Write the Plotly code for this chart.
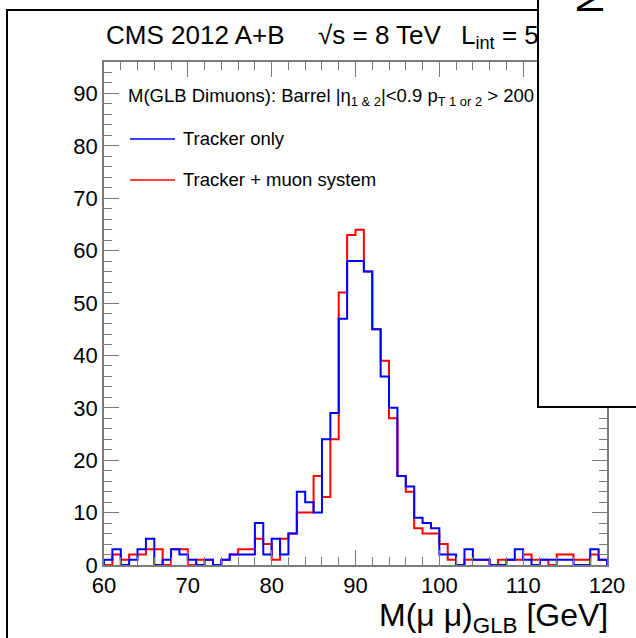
import plotly.graph_objects as go

# ---------------- data ----------------
mass_bin_low_edges = [60, 61, 62, 63, 64, 65, 66, 67, 68, 69,
                      70, 71, 72, 73, 74, 75, 76, 77, 78, 79,
                      80, 81, 82, 83, 84, 85, 86, 87, 88, 89,
                      90, 91, 92, 93, 94, 95, 96, 97, 98, 99,
                      100, 101, 102, 103, 104, 105, 106, 107, 108, 109,
                      110, 111, 112, 113, 114, 115, 116, 117, 118, 119]
mass_upper_edge = 120
tracker_only = [1, 3, 0, 1, 3, 5, 0, 1, 3, 2,
                1, 0, 1, 0, 1, 2, 2, 2, 8, 2,
                5, 2, 6, 14, 12, 10, 24, 29, 47, 58,
                58, 56, 45, 36, 30, 17, 15, 9, 8, 7,
                2, 2, 0, 3, 1, 1, 0, 0, 1, 3,
                1, 0, 1, 1, 1, 1, 0, 0, 3, 1]
tracker_muon = [0, 2, 1, 2, 2, 3, 3, 0, 3, 3,
                0, 1, 1, 0, 1, 2, 3, 3, 5, 4,
                1, 5, 6, 10, 10, 17, 13, 24, 52, 63,
                64, 56, 45, 39, 28, 17, 14, 7, 6, 6,
                4, 1, 0, 1, 1, 1, 0, 1, 1, 1,
                2, 1, 1, 0, 2, 2, 1, 1, 2, 1]
x_ticks = [60, 70, 80, 90, 100, 110, 120]
y_ticks = [0, 10, 20, 30, 40, 50, 60, 70, 80, 90]
series_names = ["Tracker only", "Tracker + muon system"]

# ---------------- layout geometry ----------------
W, H = 636, 638
ML, MR, MT, MB = 104, 29, 62, 73
PW, PH = W - ML - MR, H - MT - MB
FONT = "Liberation Sans, Arial, Helvetica, sans-serif"
AXC = "#7a7a7a"


def px(x):
    return (x - ML) / PW


def py(y):
    return (H - MB - y) / PH


def step_xy(values):
    xs = [mass_bin_low_edges[0]] + list(mass_bin_low_edges) + [mass_upper_edge, mass_upper_edge]
    ys = [0] + list(values) + [values[-1], 0]
    return xs, ys


fig = go.Figure()
xr, yr = step_xy(tracker_muon)
fig.add_trace(go.Scatter(x=xr, y=yr, mode="lines", line=dict(color="#ff0000", width=2, shape="hv"),
                         name=series_names[1], showlegend=False))
xb, yb = step_xy(tracker_only)
fig.add_trace(go.Scatter(x=xb, y=yb, mode="lines", line=dict(color="#0000ff", width=2, shape="hv"),
                         name=series_names[0], showlegend=False))

axis_common = dict(
    showgrid=False, zeroline=False, showline=True, linecolor=AXC, linewidth=1.5,
    mirror="ticks", ticks="inside", ticklen=15, tickwidth=1.2, tickcolor=AXC,
    tickfont=dict(family=FONT, size=22, color="black"),
)
fig.update_xaxes(range=[mass_bin_low_edges[0], mass_upper_edge], tickvals=x_ticks,
                 minor=dict(dtick=2, ticks="inside", ticklen=8, tickcolor=AXC, tickwidth=1.2),
                 **axis_common)
fig.update_yaxes(range=[0, 96], tickvals=y_ticks,
                 minor=dict(dtick=2, ticks="inside", ticklen=8, tickcolor=AXC, tickwidth=1.2),
                 **axis_common)

shapes = []
# outer pad border (left/top visible)
shapes.append(dict(type="rect", xref="paper", yref="paper", x0=px(7), x1=px(720), y0=py(720), y1=py(10),
                   line=dict(color="black", width=2), fillcolor="rgba(0,0,0,0)", layer="below"))
# legend samples
shapes.append(dict(type="line", xref="paper", yref="paper", x0=px(130), x1=px(175), y0=py(139), y1=py(139),
                   line=dict(color="#0000ff", width=1.5)))
shapes.append(dict(type="line", xref="paper", yref="paper", x0=px(130), x1=px(175), y0=py(180), y1=py(180),
                   line=dict(color="#ff0000", width=1.5)))

ann = []
tf = dict(family=FONT, size=26, color="black")
ann.append(dict(text="CMS 2012 A+B", x=px(104), y=py(18), xanchor="left", yanchor="top", font=tf))
ann.append(dict(text="√s = 8 TeV", x=px(316), y=py(18), xanchor="left", yanchor="top", font=tf))
ann.append(dict(text="L<sub>int</sub> = 5.3 fb⁻¹", x=px(459), y=py(18), xanchor="left", yanchor="top", font=tf))
ann.append(dict(text="M(GLB Dimuons): Barrel |η<sub>1 &amp; 2</sub>|&lt;0.9 p<sub>T 1 or 2</sub> &gt; 200 GeV",
                x=px(126), y=py(83), xanchor="left", yanchor="top",
                font=dict(family=FONT, size=18.5, color="black")))
ann.append(dict(text=series_names[0], x=px(181), y=py(138), xanchor="left", yanchor="middle",
                font=dict(family=FONT, size=18.5, color="black")))
ann.append(dict(text=series_names[1], x=px(181), y=py(179), xanchor="left", yanchor="middle",
                font=dict(family=FONT, size=18.5, color="black")))
ann.append(dict(text="M(μ μ)<sub>GLB</sub> [GeV]", x=px(609), y=py(596), xanchor="right", yanchor="top",
                borderpad=0, font=dict(family=FONT, size=32, color="black")))
# overlapping pad box (top right)
ann.append(dict(text=" ", x=px(537), y=py(408), xanchor="left", yanchor="bottom",
                width=130, height=440, bgcolor="white", bordercolor="black", borderwidth=2, borderpad=0,
                font=dict(size=10)))
ann.append(dict(text="Number of events", textangle=-90, x=px(591), y=py(16), xanchor="center", yanchor="bottom",
                font=dict(family=FONT, size=36, color="black")))
for a in ann:
    a.setdefault("xref", "paper")
    a.setdefault("yref", "paper")
    a.setdefault("showarrow", False)

fig.update_layout(
    width=W, height=H, margin=dict(l=ML, r=MR, t=MT, b=MB, pad=0),
    paper_bgcolor="white", plot_bgcolor="white",
    shapes=shapes, annotations=ann, showlegend=False,
    font=dict(family=FONT),
)
fig.write_html("out.html")
